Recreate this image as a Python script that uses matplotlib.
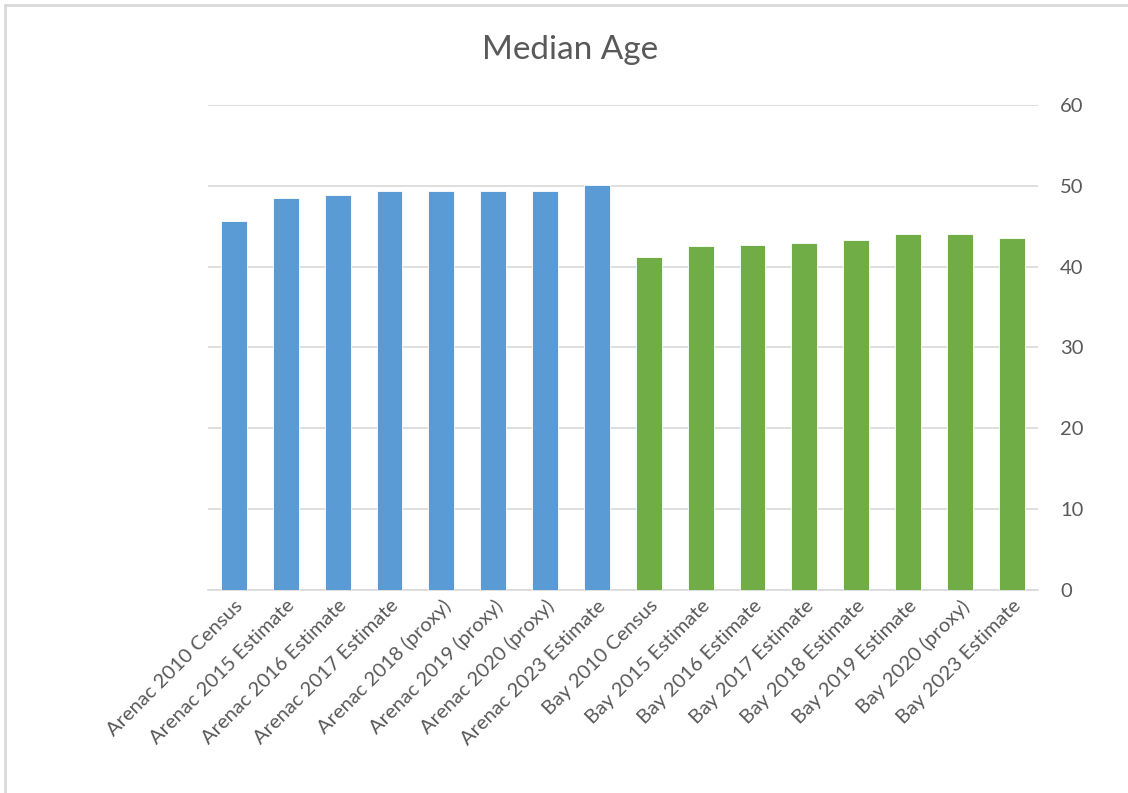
import matplotlib.pyplot as plt
from matplotlib.patches import Rectangle

# data
labels = ['Arenac 2010 Census', 'Arenac 2015 Estimate', 'Arenac 2016 Estimate',
          'Arenac 2017 Estimate', 'Arenac 2018 (proxy)', 'Arenac 2019 (proxy)',
          'Arenac 2020 (proxy)', 'Arenac 2023 Estimate',
          'Bay 2010 Census', 'Bay 2015 Estimate', 'Bay 2016 Estimate',
          'Bay 2017 Estimate', 'Bay 2018 Estimate', 'Bay 2019 Estimate',
          'Bay 2020 (proxy)', 'Bay 2023 Estimate']
arenac = [45.7, 48.5, 48.9, 49.3, 49.3, 49.3, 49.3, 50.1]
bay = [41.2, 42.6, 42.7, 42.9, 43.3, 44.1, 44.1, 43.5]
yticks = [0, 10, 20, 30, 40, 50, 60]

blue = '#5B9BD5'
green = '#70AD47'
txt = '#595959'

plt.rcParams['font.family'] = ['Lato', 'DejaVu Sans']

fig = plt.figure(figsize=(11.28, 7.93), dpi=100)
ax = fig.add_axes([0.1844, 0.256, 0.7356, 0.6116])

values = arenac + bay
colors = [blue] * len(arenac) + [green] * len(bay)
x = list(range(len(values)))
ax.bar(x, values, width=0.5, color=colors, edgecolor='white', linewidth=0.6, zorder=3)

ax.set_xlim(-0.5, len(values) - 0.5)
ax.set_ylim(0, 60)
ax.set_yticks(yticks)
ax.yaxis.tick_right()
ax.grid(axis='y', color='#D9D9D9', linewidth=1.2, zorder=0)
ax.tick_params(axis='y', length=0, pad=16, labelsize=14.5, labelcolor=txt)
ax.tick_params(axis='x', length=0, pad=5, labelsize=14.5, labelcolor=txt)
ax.set_xticks(x)
ax.set_xticklabels(labels, rotation=45, ha='right', rotation_mode='anchor')
for s in ['top', 'left', 'right']:
    ax.spines[s].set_visible(False)
ax.spines['bottom'].set_color('#D9D9D9')
ax.spines['bottom'].set_linewidth(1.2)

fig.text(0.505, 0.937, 'Median Age', ha='center', va='center', fontsize=24, color=txt)

# light border around the chart area
fig.patches.append(Rectangle((5 / 1128, -0.05), 1.2, 1 - 5 / 793 + 0.05,
                             transform=fig.transFigure, fill=False,
                             edgecolor='#D9D9D9', linewidth=2))

fig.savefig('out.png', dpi=100)
